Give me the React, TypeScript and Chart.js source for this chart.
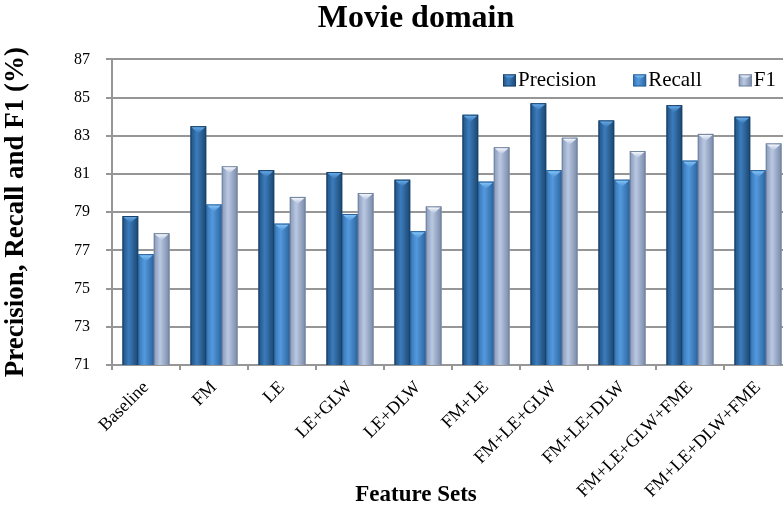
import { useEffect, useRef } from 'react';
import { Chart, registerables } from 'chart.js';

Chart.register(...registerables);

// Feature sets on the category axis
const categories = [
  'Baseline',
  'FM',
  'LE',
  'LE+GLW',
  'LE+DLW',
  'FM+LE',
  'FM+LE+GLW',
  'FM+LE+DLW',
  'FM+LE+GLW+FME',
  'FM+LE+DLW+FME',
];

// Scores (%) per feature set
const precision = [78.8, 83.5, 81.2, 81.1, 80.7, 84.1, 84.7, 83.8, 84.6, 84.0];
const recall = [76.8, 79.4, 78.4, 78.9, 78.0, 80.6, 81.2, 80.7, 81.7, 81.2];
const f1 = [77.9, 81.4, 79.8, 80.0, 79.3, 82.4, 82.9, 82.2, 83.1, 82.6];

const seriesNames = ['Precision', 'Recall', 'F1'];

// Value axis range and tick step
const yMin = 71;
const yMax = 87;
const yStep = 2;

const FONT = "'Liberation Serif', 'Times New Roman', serif";
const GRID = '#969696';

type BarStyle = { left: string; mid: string; right: string; edge: string; cap: string };

// Shaded "cylinder" look for each series
const SERIES_STYLE: BarStyle[] = [
  { left: '#21517f', mid: '#3b7cbc', right: '#1c4670', edge: '#1a4268', cap: '#6fb2ef' },
  { left: '#3576b8', mid: '#5399dc', right: '#2c64a0', edge: '#2a5f98', cap: '#8ccaf8' },
  { left: '#8797b6', mid: '#b9c9e3', right: '#7888a6', edge: '#74849f', cap: '#ffffff' },
];

function paintBar(ctx: CanvasRenderingContext2D, l: number, t: number, w: number, h: number, st: BarStyle, capSize: number) {
  const g = ctx.createLinearGradient(l, 0, l + w, 0);
  g.addColorStop(0, st.left);
  g.addColorStop(0.4, st.mid);
  g.addColorStop(1, st.right);
  ctx.fillStyle = g;
  ctx.fillRect(l, t, w, h);
  ctx.strokeStyle = st.edge;
  ctx.lineWidth = 1;
  ctx.strokeRect(l + 0.5, t + 0.5, w - 1, h - 1);
  const cg = ctx.createLinearGradient(0, t, 0, t + capSize);
  cg.addColorStop(0, st.cap);
  cg.addColorStop(1, st.mid);
  ctx.beginPath();
  ctx.moveTo(l + 1, t + 1);
  ctx.lineTo(l + w - 1, t + 1);
  ctx.lineTo(l + w / 2, t + 1 + capSize);
  ctx.closePath();
  ctx.fillStyle = cg;
  ctx.fill();
}

// Repaints each bar element (positions from the bar controller) with shading
const cylinderBars = {
  id: 'cylinderBars',
  afterDatasetsDraw(chart: any) {
    const { ctx, chartArea } = chart;
    ctx.save();
    ctx.beginPath();
    ctx.rect(chartArea.left, chartArea.top, chartArea.right - chartArea.left, chartArea.bottom - chartArea.top);
    ctx.clip();
    chart.data.datasets.forEach((_: any, i: number) => {
      const meta = chart.getDatasetMeta(i);
      const st = SERIES_STYLE[i];
      meta.data.forEach((el: any) => {
        const { x, y, base, width } = el.getProps(['x', 'y', 'base', 'width'], true);
        paintBar(ctx, x - width / 2, y, width, base - y, st, 6);
      });
    });
    ctx.restore();
  },
};

// Legend row drawn inside the top of the plot area
const insideLegend = {
  id: 'insideLegend',
  afterDraw(chart: any) {
    const { ctx, chartArea } = chart;
    ctx.save();
    ctx.font = `21px ${FONT}`;
    ctx.textBaseline = 'alphabetic';
    ctx.textAlign = 'left';
    let x = chartArea.left + 391;
    const baseY = chartArea.top + 27;
    chart.data.datasets.forEach((ds: any, i: number) => {
      paintBar(ctx, x, baseY - 12, 13, 12, SERIES_STYLE[i], 4);
      ctx.fillStyle = '#000';
      ctx.fillText(ds.label, x + 15, baseY);
      x += 15 + ctx.measureText(ds.label).width + 37;
    });
    ctx.restore();
  },
};

export default function App() {
  const ref = useRef<HTMLCanvasElement>(null);

  useEffect(() => {
    const values = [precision, recall, f1];
    const chart = new Chart(ref.current as HTMLCanvasElement, {
      type: 'bar',
      data: {
        labels: categories,
        datasets: seriesNames.map((name, i) => ({
          label: name,
          data: values[i],
          backgroundColor: SERIES_STYLE[i].mid,
          borderWidth: 0,
          categoryPercentage: 0.69,
          barPercentage: 1,
        })),
      },
      options: {
        responsive: false,
        animation: false,
        layout: { padding: 0 },
        plugins: {
          legend: { display: false },
          tooltip: { enabled: false },
          title: {
            display: true,
            text: 'Movie domain',
            color: '#000',
            font: { family: FONT, size: 32, weight: 'bold' },
            padding: { top: 0, bottom: 21 },
          },
          // Axis caption centred under the whole figure; it overlaps the
          // bottom of the tick-label band, so it takes no layout height.
          subtitle: {
            display: true,
            position: 'bottom',
            text: 'Feature Sets',
            color: '#000',
            font: { family: FONT, size: 23, weight: 'bold' },
            padding: { top: -26.8, bottom: -0.8 },
          },
        },
        scales: {
          x: {
            grid: {
              display: true,
              drawOnChartArea: false,
              drawTicks: true,
              tickLength: 5,
              color: GRID,
              lineWidth: 2,
              offset: true,
            },
            border: { color: GRID, width: 2 },
            ticks: {
              color: '#000',
              font: { family: FONT, size: 18 },
              minRotation: 45,
              maxRotation: 45,
              autoSkip: false,
              padding: 7,
            },
            afterFit: (s: any) => {
              s.height = 143;
            },
          },
          y: {
            min: yMin,
            max: yMax,
            ticks: {
              stepSize: yStep,
              color: '#000',
              font: { family: FONT, size: 16 },
              padding: 16,
            },
            grid: { color: GRID, lineWidth: 2, tickLength: 6 },
            border: { color: GRID, width: 2 },
            title: {
              display: true,
              text: 'Precision, Recall and F1 (%)',
              color: '#000',
              font: { family: FONT, size: 27, weight: 'bold' },
              padding: { top: 0, bottom: 0 },
            },
            afterFit: (s: any) => {
              s.width = 112;
            },
          },
          yPad: {
            position: 'right',
            display: true,
            grid: { display: false },
            border: { display: false },
            ticks: { display: false },
            afterFit: (s: any) => {
              s.width = 40;
            },
          },
        },
      } as any,
      plugins: [cylinderBars, insideLegend],
    });
    return () => chart.destroy();
  }, []);

  return (
    <div
      style={{
        position: 'fixed',
        left: 0,
        top: 0,
        width: 783,
        height: 508,
        overflow: 'hidden',
        background: '#fff',
      }}
    >
      <canvas ref={ref} width={832} height={508} style={{ display: 'block' }} />
    </div>
  );
}
